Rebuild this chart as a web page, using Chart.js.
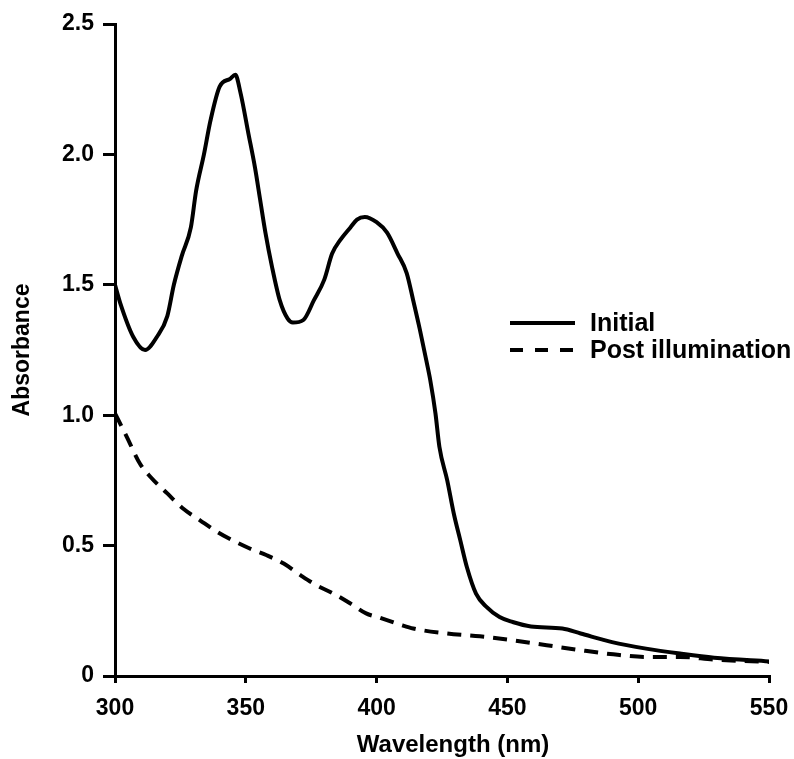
<!DOCTYPE html>
<html>
<head>
<meta charset="utf-8">
<script src="https://cdn.jsdelivr.net/npm/chart.js@4/dist/chart.umd.min.js"></script>
<style>
  html, body { margin: 0; padding: 0; background: #fff; }
  #wrap { width: 794px; height: 759px; }
</style>
</head>
<body>
<div id="wrap"><canvas id="spectrum" width="794" height="759"></canvas></div>
<script>
// values
const initialWavelength = [300, 302, 307, 311.5, 316, 320, 322.5, 325.5, 329, 331, 334, 336.5, 340, 344, 346, 348, 351, 353.5, 355.5, 357.5, 360, 363, 366, 368, 372, 376, 380, 383, 386, 390, 392.5, 395.5, 400, 404, 408, 411.5, 414, 416.5, 419, 420.5, 422.5, 424, 427, 429.5, 432, 434.5, 438, 442, 447, 452, 459, 471, 478, 490, 503, 516, 529, 550];
const initialAbsorbance = [1.50, 1.43, 1.30, 1.25, 1.30, 1.38, 1.50, 1.61, 1.72, 1.86, 2.00, 2.13, 2.26, 2.29, 2.305, 2.235, 2.08, 1.95, 1.825, 1.70, 1.57, 1.44, 1.37, 1.355, 1.365, 1.44, 1.52, 1.62, 1.67, 1.72, 1.75, 1.76, 1.74, 1.70, 1.62, 1.545, 1.44, 1.33, 1.21, 1.135, 1.007, 0.879, 0.75, 0.623, 0.52, 0.418, 0.316, 0.265, 0.226, 0.207, 0.19, 0.182, 0.163, 0.13, 0.105, 0.086, 0.07, 0.056];

const postWavelength = [300, 304.5, 309.5, 313.5, 320, 326, 332.5, 339, 345, 351.5, 358, 364.5, 371, 377, 383.5, 390, 396, 401, 409, 414, 427, 439.5, 452, 465, 478, 490.5, 503, 516, 529, 550];
const postAbsorbance = [1.007, 0.917, 0.815, 0.764, 0.70, 0.642, 0.597, 0.553, 0.52, 0.489, 0.463, 0.431, 0.386, 0.348, 0.316, 0.278, 0.24, 0.224, 0.197, 0.182, 0.163, 0.152, 0.137, 0.118, 0.099, 0.083, 0.073, 0.073, 0.063, 0.054];

const seriesLabels = ['Initial', 'Post illumination'];
const xTitle = 'Wavelength (nm)';

const FONT = '"Liberation Sans", Arial, sans-serif';

function toPoints(xs, ys) {
    return xs.map((x, i) => ({ x: x, y: ys[i] }));
}

// legend inside the plot + x axis title (sits a bit right of centre in the original)
const extras = {
    id: 'extras',
    afterDraw(chart) {
        const ctx = chart.ctx;
        const rows = [323, 350];
        ctx.save();
        ctx.font = 'bold 25px ' + FONT;
        ctx.fillStyle = '#000';
        ctx.textBaseline = 'middle';
        chart.data.datasets.forEach((ds, i) => {
            const y = rows[i];
            ctx.beginPath();
            ctx.lineWidth = 4;
            ctx.strokeStyle = '#000';
            ctx.setLineDash(ds.borderDash ? [13, 12] : []);
            ctx.moveTo(510, y);
            ctx.lineTo(575, y);
            ctx.stroke();
            ctx.setLineDash([]);
            ctx.fillText(ds.label, 590, y + 1);
        });

        ctx.font = 'bold 24px ' + FONT;
        ctx.textAlign = 'center';
        ctx.fillText(xTitle, 453, 745);
        ctx.restore();
    }
};

const chart = new Chart(document.getElementById('spectrum').getContext('2d'), {
    type: 'line',
    data: {
        datasets: [{
            label: seriesLabels[0],
            data: toPoints(initialWavelength, initialAbsorbance),
            borderColor: '#000',
            borderWidth: 4,
            pointRadius: 0,
            cubicInterpolationMode: 'monotone',
            fill: false
        }, {
            label: seriesLabels[1],
            data: toPoints(postWavelength, postAbsorbance),
            borderColor: '#000',
            borderWidth: 4,
            borderDash: [14, 9],
            pointRadius: 0,
            cubicInterpolationMode: 'monotone',
            fill: false
        }]
    },
    options: {
        responsive: false,
        animation: false,
        layout: { padding: { top: 24, right: 25, bottom: 0, left: 0 } },
        plugins: {
            legend: { display: false },
            tooltip: { enabled: false }
        },
        scales: {
            x: {
                type: 'linear',
                min: 300,
                max: 550,
                afterFit: s => { s.height = 83; s.paddingRight = 0; s.paddingLeft = 0; },
                border: { color: '#000', width: 3 },
                grid: { drawOnChartArea: false, drawTicks: true, tickLength: 7, color: '#000', lineWidth: 3 },
                ticks: { stepSize: 50, color: '#000', padding: 12, font: { family: FONT, size: 23, weight: 'bold' } }
            },
            y: {
                min: 0,
                max: 2.5,
                afterFit: s => { s.width = 115; },
                border: { color: '#000', width: 3 },
                grid: { drawOnChartArea: false, drawTicks: true, tickLength: 12, color: '#000', lineWidth: 3 },
                ticks: {
                    stepSize: 0.5,
                    color: '#000',
                    padding: 9,
                    font: { family: FONT, size: 23, weight: 'bold' },
                    callback: v => v === 0 ? '0' : v.toFixed(1)
                },
                title: {
                    display: true,
                    text: 'Absorbance',
                    color: '#000',
                    padding: { top: 9, bottom: 0 },
                    font: { family: FONT, size: 23, weight: 'bold' }
                }
            }
        }
    },
    plugins: [extras]
});
</script>
</body>
</html>
